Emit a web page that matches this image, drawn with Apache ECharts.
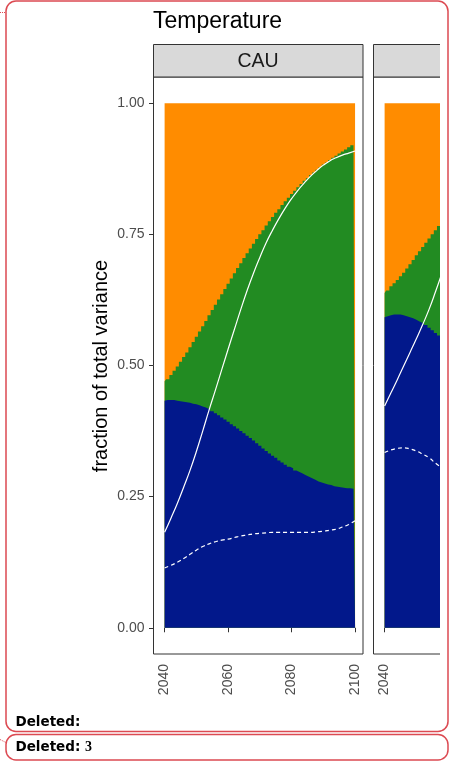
<!DOCTYPE html>
<html>
<head>
<meta charset="utf-8">
<script src="https://cdn.jsdelivr.net/npm/echarts@6/dist/echarts.min.js"></script>
<style>
  html, body { margin: 0; padding: 0; background: #ffffff; }
  #chart { width: 454px; height: 763px; }
</style>
</head>
<body>
<div id="chart"></div>
<script>
// Yearly variance fractions, CAU panel (model / scenario / internal)
const years = [2040,2041,2042,2043,2044,2045,2046,2047,2048,2049,
  2050,2051,2052,2053,2054,2055,2056,2057,2058,2059,
  2060,2061,2062,2063,2064,2065,2066,2067,2068,2069,
  2070,2071,2072,2073,2074,2075,2076,2077,2078,2079,
  2080,2081,2082,2083,2084,2085,2086,2087,2088,2089,
  2090,2091,2092,2093,2094,2095,2096,2097,2098,2099,2100];

const modelCAU = [0.433,0.434,0.434,0.434,0.433,0.432,0.431,0.430,0.429,0.427,
  0.426,0.424,0.422,0.420,0.417,0.413,0.409,0.405,0.401,0.397,
  0.393,0.388,0.384,0.380,0.375,0.371,0.366,0.362,0.357,0.352,
  0.347,0.342,0.337,0.332,0.328,0.324,0.319,0.315,0.311,0.307,
  0.304,0.300,0.297,0.294,0.291,0.288,0.285,0.282,0.279,0.277,
  0.275,0.273,0.272,0.270,0.269,0.268,0.267,0.266,0.266,0.265,0.265];

const scenarioCAU = [0.037,0.040,0.048,0.056,0.065,0.075,0.085,0.095,0.106,0.118,
  0.129,0.141,0.153,0.165,0.179,0.193,0.207,0.221,0.235,0.249,
  0.263,0.278,0.292,0.306,0.320,0.334,0.348,0.361,0.375,0.389,
  0.403,0.416,0.430,0.443,0.455,0.467,0.479,0.491,0.502,0.513,
  0.523,0.533,0.543,0.552,0.561,0.569,0.578,0.586,0.594,0.601,
  0.608,0.614,0.620,0.626,0.631,0.636,0.641,0.646,0.650,0.655,0.659];

const internalCAU = [0.530,0.526,0.518,0.510,0.502,0.493,0.484,0.475,0.465,0.455,
  0.445,0.435,0.425,0.415,0.404,0.394,0.384,0.374,0.364,0.354,
  0.344,0.334,0.324,0.314,0.305,0.295,0.286,0.277,0.268,0.259,
  0.250,0.242,0.233,0.225,0.217,0.209,0.202,0.194,0.187,0.180,
  0.173,0.167,0.160,0.154,0.148,0.143,0.137,0.132,0.127,0.122,
  0.117,0.113,0.108,0.104,0.100,0.096,0.092,0.088,0.084,0.080,0.076];

// Smooth reference curves, CAU panel
const curveYears = [2040,2042,2044,2046,2048,2050,2052,2054,2056,2058,
  2060,2062,2064,2066,2068,2070,2072,2074,2076,2078,
  2080,2082,2084,2086,2088,2090,2092,2094,2096,2098,2100];
const solidCAU = [0.182,0.209,0.237,0.268,0.300,0.336,0.375,0.415,0.453,0.492,
  0.531,0.569,0.607,0.643,0.676,0.706,0.734,0.758,0.780,0.800,
  0.818,0.834,0.848,0.861,0.872,0.882,0.890,0.896,0.901,0.905,0.909];
const dashedCAU = [0.114,0.119,0.125,0.132,0.140,0.148,0.155,0.160,0.164,0.167,
  0.169,0.172,0.175,0.177,0.179,0.180,0.181,0.182,0.182,0.182,
  0.182,0.182,0.182,0.182,0.183,0.184,0.186,0.188,0.192,0.197,0.204];

// Second panel (only its left part is shown)
const years2 = [2040,2041,2042,2043,2044,2045,2046,2047,2048,2049,
  2050,2051,2052,2053,2054,2055,2056,2057,2058];
const model2 = [0.592,0.594,0.596,0.597,0.597,0.597,0.596,0.594,0.592,0.590,
  0.587,0.584,0.581,0.577,0.572,0.567,0.562,0.557,0.552];
const scenario2 = [0.046,0.049,0.055,0.060,0.066,0.073,0.081,0.091,0.101,0.111,
  0.123,0.134,0.145,0.157,0.170,0.183,0.196,0.209,0.221];
const internal2 = [0.362,0.357,0.349,0.343,0.337,0.330,0.323,0.315,0.307,0.299,
  0.290,0.282,0.274,0.266,0.258,0.250,0.242,0.234,0.227];
const curveYears2 = [2040,2042,2044,2046,2048,2050,2052,2054,2056,2058];
const solid2 = [0.423,0.448,0.473,0.499,0.525,0.551,0.578,0.607,0.640,0.675];
const dashed2 = [0.334,0.339,0.342,0.343,0.341,0.337,0.331,0.324,0.314,0.305];

// Axis ticks
const xTicks = [2040, 2060, 2080, 2100];
const yTicks = [0, 0.25, 0.5, 0.75, 1];

const COLORS = { model: '#02188b', scenario: '#228b22', internal: '#ff8c00' };
const SANS = '"Liberation Sans", Arial, Helvetica, sans-serif';
const BALLOON = '#dc4a52';

const pairs = (xs, ys) => xs.map((x, i) => [x, ys[i]]);
// running totals so each band can be filled down to zero, later bands on top
const cumulate = (...parts) => parts[0].map((_, i) => parts.reduce((s, p) => s + p[i], 0));

function bandSeries(idx, xs, tops, color, z) {
  return {
    type: 'line', xAxisIndex: idx, yAxisIndex: idx,
    step: 'middle', symbol: 'none', silent: true,
    lineStyle: { width: 0 },
    areaStyle: { color: color, opacity: 1 },
    data: pairs(xs, tops), z: z
  };
}
function curveSeries(idx, xs, values, dashed) {
  return {
    type: 'line', xAxisIndex: idx, yAxisIndex: idx, smooth: 0.5,
    symbol: 'none', silent: true,
    lineStyle: { color: '#ffffff', width: 1.2, type: dashed ? [4, 3] : 'solid' },
    data: pairs(xs, values), z: 6
  };
}
function panelSeries(idx, xs, model, scenario, internal, cx, solid, dashed) {
  return [
    bandSeries(idx, xs, cumulate(model, scenario, internal), COLORS.internal, 2),
    bandSeries(idx, xs, cumulate(model, scenario), COLORS.scenario, 3),
    bandSeries(idx, xs, model, COLORS.model, 4),
    curveSeries(idx, cx, solid, false),
    curveSeries(idx, cx, dashed, true)
  ];
}

const gridBase = { top: 77, height: 577, width: 209.5, show: true, backgroundColor: '#ffffff',
  borderColor: '#333333', borderWidth: 1, containLabel: false, outerBoundsMode: 'none' };

function xAxisFor(idx) {
  return {
    type: 'value', gridIndex: idx, min: 2036.5, max: 2102.5,
    axisLine: { show: false }, splitLine: { show: false },
    axisTick: { show: true, length: 4.5, customValues: xTicks, lineStyle: { color: '#333333', width: 1 } },
    axisLabel: { show: true, customValues: xTicks, rotate: 90, margin: 10, color: '#4d4d4d', fontSize: 14, fontFamily: SANS,
      formatter: v => String(v) }
  };
}
function yAxisFor(idx, showLabels) {
  return {
    type: 'value', gridIndex: idx, min: -0.05, max: 1.05,
    axisLine: { show: false }, splitLine: { show: false },
    axisTick: { show: showLabels, length: 4.5, customValues: yTicks, lineStyle: { color: '#333333', width: 1 } },
    axisLabel: { show: showLabels, customValues: yTicks, margin: 9, color: '#4d4d4d', fontSize: 14, fontFamily: SANS,
      formatter: v => v.toFixed(2) }
  };
}

const chart = echarts.init(document.getElementById('chart'), null, { renderer: 'canvas' });
chart.setOption({
  animation: false,
  backgroundColor: '#ffffff',
  grid: [
    Object.assign({ left: 153.5 }, gridBase),
    Object.assign({ left: 373.5 }, gridBase)
  ],
  xAxis: [xAxisFor(0), xAxisFor(1)],
  yAxis: [yAxisFor(0, true), yAxisFor(1, false)],
  series: [].concat(
    panelSeries(0, years, modelCAU, scenarioCAU, internalCAU, curveYears, solidCAU, dashedCAU),
    panelSeries(1, years2, model2, scenario2, internal2, curveYears2, solid2, dashed2)
  ),
  graphic: [
    // facet strips
    { type: 'rect', z: 20, shape: { x: 153.5, y: 44.5, width: 209.5, height: 32.5 },
      style: { fill: '#d9d9d9', stroke: '#333333', lineWidth: 1 } },
    { type: 'rect', z: 20, shape: { x: 373.5, y: 44.5, width: 209.5, height: 32.5 },
      style: { fill: '#d9d9d9', stroke: '#333333', lineWidth: 1 } },
    { type: 'text', z: 21, x: 258, y: 61.5,
      style: { text: 'CAU', font: '19.5px ' + SANS, fill: '#1a1a1a', align: 'center', verticalAlign: 'middle' } },
    // title
    { type: 'text', z: 21, x: 153, y: 22,
      style: { text: 'Temperature', font: '23px ' + SANS, fill: '#000000', align: 'left', verticalAlign: 'middle' } },
    // y axis title
    { type: 'text', z: 21, x: 101.3, y: 366, rotation: Math.PI / 2,
      style: { text: 'fraction of total variance', font: '20px ' + SANS, fill: '#000000', align: 'center', verticalAlign: 'middle' } },
    // right edge of the embedded figure
    { type: 'rect', z: 100, shape: { x: 440, y: 0, width: 14, height: 733 }, style: { fill: '#ffffff' } },
    // comment balloons
    { type: 'rect', z: 110, shape: { x: 6, y: 1, width: 442, height: 730.5, r: 10 },
      style: { fill: 'none', stroke: BALLOON, lineWidth: 1.5 } },
    { type: 'rect', z: 110, shape: { x: 6, y: 734.5, width: 442, height: 25.5, r: 10 },
      style: { fill: '#ffffff', stroke: BALLOON, lineWidth: 1.5 } },
    { type: 'line', z: 110, shape: { x1: 0, y1: 12.5, x2: 6, y2: 12.5 },
      style: { stroke: BALLOON, lineWidth: 1, lineDash: [1, 1] } },
    { type: 'line', z: 110, shape: { x1: 0, y1: 739.5, x2: 6, y2: 742.5 },
      style: { stroke: BALLOON, lineWidth: 1, lineDash: [1, 1] } },
    { type: 'text', z: 111, x: 15.5, y: 722.5,
      style: { text: 'Deleted:', font: 'bold 13.5px "DejaVu Sans", Verdana, sans-serif', fill: '#000000', align: 'left', verticalAlign: 'middle' } },
    { type: 'text', z: 111, x: 15.5, y: 747,
      style: { text: 'Deleted:', font: 'bold 13.5px "DejaVu Sans", Verdana, sans-serif', fill: '#000000', align: 'left', verticalAlign: 'middle' } },
    { type: 'text', z: 111, x: 85, y: 747,
      style: { text: '3', font: 'bold 14px "Liberation Serif", "Times New Roman", serif', fill: '#000000', align: 'left', verticalAlign: 'middle' } }
  ]
});
</script>
</body>
</html>
